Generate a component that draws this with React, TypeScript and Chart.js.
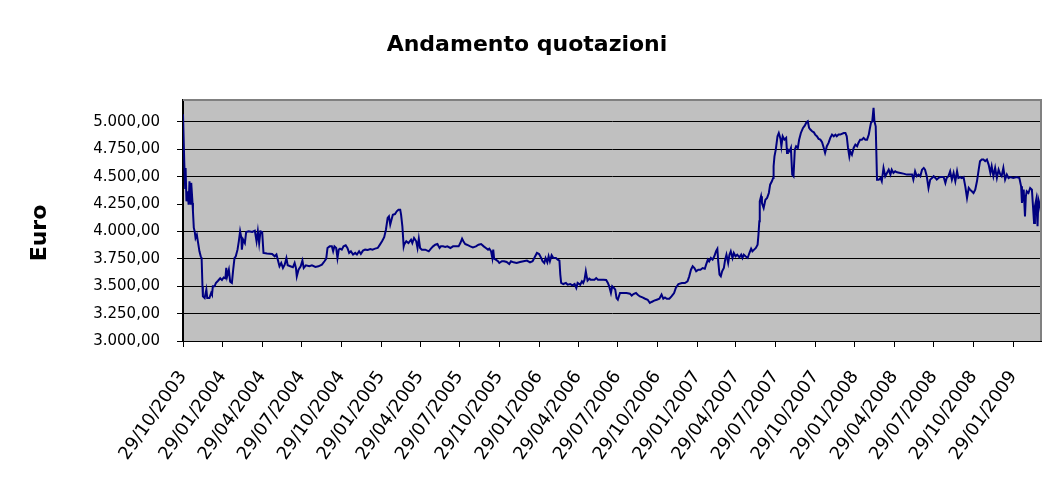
import { useEffect, useRef } from 'react';
import { Chart, registerables } from 'chart.js';

Chart.register(...registerables);

const CHART_TITLE = 'Andamento quotazioni';
const Y_AXIS_TITLE = 'Euro';
const START_DATE = '29/10/2003';

const X_TICK_LABELS = [
  '29/10/2003', '29/01/2004', '29/04/2004', '29/07/2004', '29/10/2004', '29/01/2005',
  '29/04/2005', '29/07/2005', '29/10/2005', '29/01/2006', '29/04/2006', '29/07/2006',
  '29/10/2006', '29/01/2007', '29/04/2007', '29/07/2007', '29/10/2007', '29/01/2008',
  '29/04/2008', '29/07/2008', '29/10/2008', '29/01/2009',
];

const Y_TICKS = [3000, 3250, 3500, 3750, 4000, 4250, 4500, 4750, 5000];
const Y_MIN = 3000;
const Y_MAX = 5200;
const Y_HIDDEN_GRID = 4250;

// days elapsed since START_DATE
const TRADE_DAYS = [
  0, 3, 5, 6, 8, 11, 13, 15, 18, 19, 22, 23, 25, 27, 29, 32, 35, 38, 41, 43, 45, 46, 50, 54, 56, 61, 65, 67, 69, 73,
  76, 81, 86, 90, 94, 98, 100, 102, 106, 109, 113, 116, 119, 122, 126, 129, 132, 135, 136, 139, 143, 146, 152, 160,
  166, 170, 173, 176, 179, 183, 186, 194, 206, 212, 216, 220, 223, 227, 231, 235, 239, 242, 248, 254, 258, 261, 263,
  267, 272, 276, 279, 284, 292, 298, 306, 313, 321, 327, 331, 334,
  339, 344, 347, 350, 354, 357, 360, 363, 367, 371, 376, 380, 384, 388, 393, 398, 402, 407, 411, 416, 421, 427, 433,
  438, 444, 450, 454, 460, 465, 469, 473, 476, 479, 482, 485, 490, 494, 498, 502, 504, 507, 510, 511, 516, 521, 527,
  530, 534, 539, 542, 545, 548, 552, 560, 568, 573, 578, 583, 588, 593, 596, 601, 606, 611, 618, 624, 629, 637, 641,
  645, 648, 652, 656, 664, 670,
  677, 683, 689, 695, 700, 705, 708, 712, 715, 717, 719, 723, 728, 731, 737, 742, 748, 754, 758, 764, 771, 779, 787,
  795, 802, 808, 814, 818, 823, 828, 831, 835, 838, 842, 845, 848, 852, 856, 862, 866, 870, 872, 874, 879, 885, 889,
  895, 900, 905, 909, 912, 918, 922, 925, 928, 931, 933, 935, 939, 942, 946, 951, 955, 959, 964, 972, 978, 982, 985,
  989, 992, 996, 999, 1002, 1005,
  1010, 1018, 1025, 1033, 1037, 1041, 1047, 1051, 1056, 1062, 1068, 1074, 1079, 1083, 1089, 1095, 1101, 1106, 1110,
  1114, 1118, 1124, 1129, 1135, 1139, 1145, 1153, 1160, 1166, 1170, 1174, 1178, 1182, 1186, 1191, 1196, 1201, 1206,
  1209, 1213, 1216, 1220, 1224, 1228, 1232, 1235, 1237, 1240, 1243, 1246, 1250, 1253, 1256, 1260, 1263, 1266, 1270,
  1273, 1277, 1281, 1286, 1290, 1293, 1296, 1300, 1305, 1309, 1313, 1316, 1320, 1324, 1328, 1330, 1332, 1333, 1336,
  1338, 1342, 1346, 1350, 1354, 1357, 1361, 1364, 1365, 1367, 1370, 1374, 1377, 1381, 1383, 1386, 1390, 1394, 1396,
  1398, 1402, 1405, 1408, 1411, 1414, 1417, 1421, 1424, 1428, 1433, 1437, 1441, 1444, 1447, 1450, 1454, 1458, 1461,
  1465, 1469, 1473, 1477, 1481, 1484, 1488, 1492, 1496, 1500, 1504, 1508, 1511, 1515, 1519, 1527, 1531, 1534, 1537,
  1540, 1542, 1546, 1550, 1554, 1558, 1561, 1565, 1569, 1573, 1577, 1581, 1585, 1587, 1590, 1593, 1596, 1598, 1601,
  1604, 1608, 1612, 1615, 1619, 1623, 1627, 1631, 1635, 1638, 1642, 1646, 1650, 1658, 1665, 1673, 1685, 1688, 1692,
  1696, 1700, 1704, 1708, 1712, 1715, 1719, 1723, 1727, 1731, 1735, 1739, 1742, 1746, 1750, 1758, 1762, 1765, 1769,
  1773, 1777, 1781, 1785, 1789, 1792, 1796, 1800, 1804, 1808, 1812, 1816, 1819, 1823, 1827, 1831, 1835, 1839, 1842,
  1846, 1850, 1854, 1858, 1862, 1866, 1869, 1873, 1877, 1881, 1885, 1889, 1892, 1896, 1900, 1904, 1908, 1912, 1919,
  1927, 1933, 1937, 1939, 1943, 1946, 1948, 1950, 1954, 1958, 1962, 1964, 1967, 1969, 1972, 1975, 1977, 1980, 1983,
];

const CLOSE_PRICES = [
  5070, 4623, 4397, 4580, 4275, 4366, 4245, 4458, 4245, 4443, 4260, 4184, 4032, 4001, 3940, 3970, 3894, 3819, 3773, 3757, 3499, 3407, 3392, 3469, 3392, 3392, 3438, 3423, 3499, 3499,
  3530, 3550, 3573, 3557, 3580, 3573, 3667, 3590, 3651, 3542, 3530, 3651, 3757, 3773, 3834, 3910, 4001, 3940, 3834, 3925, 3894, 3995, 4001, 3995,
  4007, 3910, 4001, 3894, 4001, 3995, 3804, 3798, 3795, 3773, 3789, 3728, 3682, 3712, 3667, 3697, 3757, 3691, 3682, 3673, 3712, 3667, 3590,
  3651, 3682, 3734, 3667, 3691, 3682, 3691, 3676, 3682, 3697, 3728, 3752, 3849,
  3864, 3864, 3819, 3864, 3849, 3757, 3834, 3843, 3834, 3864, 3873, 3849, 3804, 3819, 3789, 3804, 3789, 3819, 3795, 3825, 3834, 3831, 3840,
  3834, 3843, 3849, 3873, 3910, 3947, 4016, 4123, 4138, 4062, 4108, 4153, 4159, 4184, 4199, 4199, 4153, 4047, 3864, 3879, 3910, 3894, 3925,
  3894, 3940, 3910, 3849, 3934, 3849, 3834, 3834, 3819, 3843, 3864, 3879, 3885, 3849, 3864, 3864, 3858, 3864, 3849, 3864, 3864, 3864, 3894,
  3934, 3910, 3885, 3879, 3864, 3855,
  3864, 3879, 3885, 3864, 3849, 3834, 3843, 3819, 3757, 3834, 3752, 3743, 3728, 3712, 3728, 3728, 3721, 3703, 3728, 3718, 3712, 3721, 3728,
  3734, 3718, 3728, 3773, 3804, 3794, 3757, 3728, 3712, 3757, 3718, 3773, 3728, 3783, 3758, 3758, 3743, 3734, 3606, 3530, 3520, 3530, 3514,
  3520, 3508, 3520, 3484, 3530, 3514, 3545, 3530, 3560, 3636, 3590, 3551, 3569, 3560, 3560, 3560, 3575, 3560, 3560, 3560, 3557, 3530, 3499,
  3438, 3499, 3484, 3469, 3392, 3377,
  3438, 3438, 3438, 3432, 3414, 3429, 3438, 3423, 3407, 3398, 3386, 3377, 3347, 3356, 3368, 3377, 3386, 3423, 3386,
  3398, 3386, 3386, 3407, 3438, 3484, 3520, 3529, 3529, 3545, 3590, 3651, 3682, 3666, 3636, 3651, 3651, 3666, 3660,
  3697, 3743, 3727, 3758, 3743, 3773, 3819, 3840, 3727, 3605, 3590, 3636, 3666, 3743, 3788, 3712, 3788, 3819, 3758,
  3803, 3773, 3788, 3764, 3788, 3758, 3788, 3773, 3758, 3803, 3843, 3819, 3834, 3849, 3879, 3971, 4093, 4275, 4321,
  4260, 4214, 4290, 4306, 4351, 4427, 4458, 4488, 4595, 4686, 4747, 4869, 4899, 4845, 4778, 4869, 4838, 4854, 4717,
  4747, 4732, 4762, 4519, 4504, 4747, 4778, 4762, 4838, 4899, 4945, 4966, 4997, 5006, 4945, 4930, 4915, 4905, 4884,
  4869, 4845, 4838, 4814, 4762, 4717, 4778, 4808, 4854, 4884, 4869, 4884, 4869, 4884, 4884, 4899, 4899, 4869, 4762,
  4686, 4732, 4701, 4762, 4793, 4778, 4808, 4838, 4838, 4854, 4838, 4838, 4884, 4930, 4991, 5006, 5128, 5006, 4960,
  4473, 4473, 4488, 4458, 4580, 4504, 4534, 4564, 4519, 4564, 4534, 4549, 4540, 4534, 4528, 4519, 4519, 4473, 4549,
  4504, 4519, 4504, 4564, 4580, 4564, 4504, 4397, 4473, 4488, 4504, 4488, 4473, 4488, 4497, 4497, 4443, 4488, 4504,
  4549, 4473, 4534, 4458, 4549, 4488, 4497, 4488, 4497, 4412, 4306, 4397, 4382, 4367, 4351, 4382, 4458, 4564, 4641,
  4656, 4656, 4641, 4656, 4610, 4534, 4595, 4504, 4580, 4488, 4564, 4519, 4504, 4580, 4473, 4519, 4488, 4497, 4488,
  4497, 4488, 4412, 4260, 4382, 4138, 4321, 4367, 4351, 4397, 4382, 4260, 4077, 4230, 4291, 4047, 4291, 4245, 4169,
];

const dayOffset = (label: string) => {
  const [d0, m0, y0] = START_DATE.split('/').map(Number);
  const [d, m, y] = label.split('/').map(Number);
  return Math.round((Date.UTC(y, m - 1, d) - Date.UTC(y0, m0 - 1, d0)) / 86400000);
};

const X_TICK_DAYS = X_TICK_LABELS.map(dayOffset);

const formatEuro = (v: number) =>
  Math.round(v).toString().replace(/\B(?=(\d{3})+(?!\d))/g, '.') + ',00';

const FONT = "'DejaVu Sans', sans-serif";

const plotFrame = {
  id: 'plotFrame',
  beforeDraw(chart: any) {
    const { ctx, chartArea: a } = chart;
    ctx.save();
    ctx.fillStyle = '#ffffff';
    ctx.fillRect(0, 0, chart.width, chart.height);
    ctx.fillStyle = '#c0c0c0';
    ctx.fillRect(a.left, a.top, a.right - a.left, a.bottom - a.top);
    ctx.restore();
  },
  afterDraw(chart: any) {
    const { ctx, chartArea: a } = chart;
    ctx.save();
    ctx.strokeStyle = '#808080';
    ctx.lineWidth = 2;
    ctx.beginPath();
    ctx.moveTo(a.left, a.top);
    ctx.lineTo(a.right, a.top);
    ctx.lineTo(a.right, a.bottom);
    ctx.stroke();
    ctx.translate(40, 233);
    ctx.rotate(-Math.PI / 2);
    ctx.font = `bold 22px ${FONT}`;
    ctx.fillStyle = '#000000';
    ctx.textAlign = 'center';
    ctx.textBaseline = 'middle';
    ctx.fillText(Y_AXIS_TITLE, 0, 0);
    ctx.restore();
  },
};

export default function App() {
  const canvasRef = useRef<HTMLCanvasElement | null>(null);

  useEffect(() => {
    if (!canvasRef.current) return;
    Chart.defaults.font.family = FONT;
    Chart.defaults.color = '#000000';
    const lastDay = TRADE_DAYS[TRADE_DAYS.length - 1];
    const chart = new Chart(canvasRef.current, {
      type: 'line',
      data: {
        datasets: [
          {
            label: 'Quotazione',
            data: TRADE_DAYS.map((d, i) => ({ x: d, y: CLOSE_PRICES[i] })),
            borderColor: '#000080',
            borderWidth: 2,
            pointRadius: 0,
            tension: 0,
            fill: false,
          },
        ],
      },
      options: {
        responsive: false,
        animation: false,
        layout: { padding: 0 },
        plugins: {
          legend: { display: false },
          tooltip: { enabled: false },
          title: {
            display: true,
            text: CHART_TITLE,
            color: '#000000',
            font: { family: FONT, size: 22, weight: 'bold', lineHeight: 1.2 },
            padding: { top: 32, bottom: 41.6 },
          },
        },
        scales: {
          x: {
            type: 'linear',
            min: 0,
            max: lastDay,
            afterBuildTicks: (scale: any) => {
              scale.ticks = X_TICK_DAYS.map((v) => ({ value: v }));
            },
            afterFit: (scale: any) => {
              scale.height = 147;
              scale.paddingLeft = 0;
              scale.paddingRight = 13;
            },
            ticks: {
              autoSkip: false,
              maxRotation: 55,
              minRotation: 55,
              padding: 20,
              color: '#000000',
              font: { family: FONT, size: 18 },
              callback: (_v: any, i: number) => X_TICK_LABELS[i] ?? '',
            },
            grid: {
              drawOnChartArea: false,
              drawTicks: true,
              tickLength: 6,
              color: '#000000',
              lineWidth: 1,
            },
            border: { display: true, color: '#000000', width: 1 },
          },
          y: {
            min: Y_MIN,
            max: Y_MAX,
            afterBuildTicks: (scale: any) => {
              scale.ticks = Y_TICKS.map((v) => ({ value: v }));
            },
            afterFit: (scale: any) => {
              scale.width = 183;
            },
            ticks: {
              padding: 17,
              color: '#000000',
              font: { family: FONT, size: 15 },
              callback: (v: any) => formatEuro(Number(v)),
            },
            grid: {
              color: (c: any) =>
                c.tick && c.tick.value === Y_HIDDEN_GRID ? 'rgba(0,0,0,0)' : '#000000',
              tickColor: '#000000',
              tickLength: 6,
              lineWidth: 1,
            },
            border: { display: true, color: '#000000', width: 2 },
          },
        },
      },
      plugins: [plotFrame],
    });
    return () => chart.destroy();
  }, []);

  return (
    <div style={{ position: 'absolute', left: 0, top: 0, width: 1054, height: 488 }}>
      <canvas
        ref={canvasRef}
        width={1054}
        height={488}
        style={{ display: 'block', width: 1054, height: 488 }}
      />
    </div>
  );
}
